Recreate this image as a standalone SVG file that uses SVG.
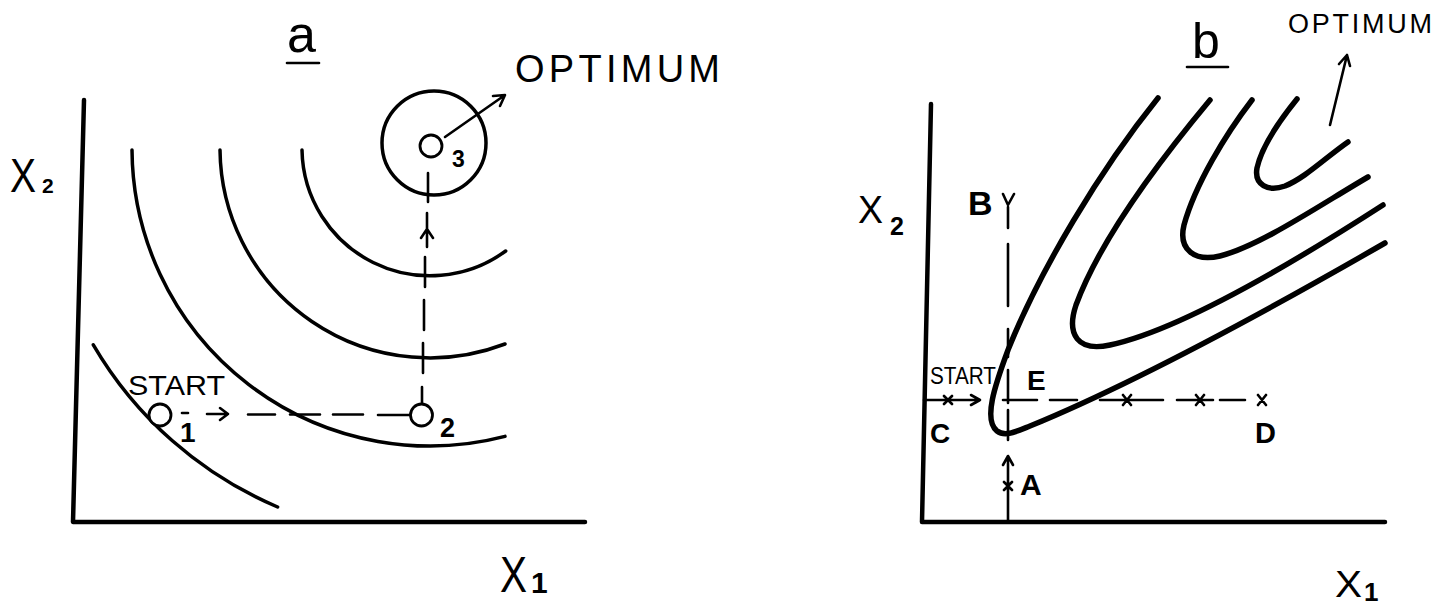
<svg xmlns="http://www.w3.org/2000/svg" width="1435" height="606" viewBox="0 0 1435 606">
<style>
.axis{stroke:#000;stroke-width:4.5;fill:none;stroke-linecap:round;stroke-linejoin:round}
.ca{stroke:#000;stroke-width:3.5;fill:none;stroke-linecap:round}
.cb{stroke:#000;stroke-width:5.5;fill:none;stroke-linecap:round}
.d{stroke:#000;stroke-width:2.6;fill:none;stroke-linecap:round;stroke-linejoin:round}
.pt{stroke:#000;stroke-width:2.8;fill:#fff}
.t{font-family:"Liberation Sans",Arial,sans-serif;fill:#000}
.b{font-weight:bold}
</style>
<rect width="1435" height="606" fill="#fff"/>

<!-- Panel a -->
<g id="panel-a">
  <path id="axes-a" class="axis" d="M84,100 L73,522 L585,522"/>
  <text class="t" x="287" y="52" font-size="52">a</text>
  <line class="d" x1="287" y1="63" x2="319" y2="63" stroke-width="3"/>
  <g id="contours-a">
    <path class="ca" d="M302,150 A128,128 0 0 0 505.7,251"/>
    <path class="ca" d="M220,150 A210,210 0 0 0 505,344"/>
    <path class="ca" d="M132,150 A298,298 0 0 0 505,436.4"/>
    <path class="ca" d="M93.3,344.8 A390,390 0 0 0 277.6,507"/>
    <circle class="ca" cx="434" cy="143" r="52"/>
  </g>
  <g id="path-a">
    <line class="d" x1="182" y1="413" x2="188" y2="413"/>
    <path class="d" d="M207,414 L228,414 M220,408 L228,414 L220,420"/>
    <path class="d" d="M248,414.5 L275,414.5 M290,414.5 L320,414.5 M333,414.5 L363,414.5 M378,415 L410,415"/>
    <path class="d" d="M428,173 L428,202 M427,213 L427,247 M421,238 L427,229 L433,238 M425,257 L425,287 M424,300 L424,330 M423,343 L423,373 M422,387 L422,404"/>
    <path class="d" d="M445,137 L505,95 M493,96 L505,95 L500,106"/>
  </g>
  <g id="point-o1">
    <circle class="pt" cx="160" cy="415" r="11"/>
    <text class="t b" x="180" y="442" font-size="28">1</text>
  </g>
  <g id="point-o2">
    <circle class="pt" cx="421.5" cy="415" r="11"/>
    <text class="t b" x="440" y="437" font-size="27">2</text>
  </g>
  <g id="point-o3">
    <circle class="pt" cx="431" cy="146" r="11"/>
    <text class="t b" x="452" y="167" font-size="23">3</text>
  </g>
  <text class="t" x="128" y="395" font-size="28" textLength="97" lengthAdjust="spacingAndGlyphs">START</text>
  <text class="t" x="515" y="82" font-size="38" textLength="205" lengthAdjust="spacing">OPTIMUM</text>
  <text class="t" x="10" y="192" font-size="48" textLength="26" lengthAdjust="spacingAndGlyphs">X</text>
  <text class="t b" x="42" y="193" font-size="21">2</text>
  <text class="t" x="500" y="592" font-size="50" textLength="27" lengthAdjust="spacingAndGlyphs">X</text>
  <text class="t b" x="531" y="593" font-size="30">1</text>
</g>

<!-- Panel b -->
<g id="panel-b">
  <path id="axes-b" class="axis" d="M931,104 L922,522 L1385,522"/>
  <text class="t" x="1192" y="58" font-size="50">b</text>
  <line class="d" x1="1187" y1="67" x2="1228" y2="67" stroke-width="3"/>
  <g id="contours-b">
    <path class="cb" d="M1297,99 C1280,120 1262,145 1257,168 C1254,185 1268,192 1285,186 C1305,178 1325,158 1348,142"/>
    <path class="cb" d="M1252,100 C1225,135 1195,185 1184,225 C1178,250 1195,262 1220,256 C1260,246 1320,205 1368,177"/>
    <path class="cb" d="M1210,100 C1160,160 1100,240 1076,305 C1066,335 1078,352 1110,345 C1180,330 1290,265 1383,205"/>
    <path class="cb" d="M1158,98 C1100,170 1040,270 1008,350 C995,385 983,420 997,431 C1005,437 1015,432 1030,426 C1130,385 1260,315 1385,243"/>
  </g>
  <g id="path-b">
    <path class="d" d="M924,400 L980,400 M971,395 L980,400 L971,405"/>
    <path class="d" d="M1003,400 L1037,400 M1050,400 L1077,400 M1100,400 L1163,400 M1177,400 L1213,400 M1220,400 L1245,400"/>
    <path class="d" d="M944,396 L952,404 M952,396 L944,404 M1123,395 L1131,405 M1131,395 L1123,405 M1196,395 L1204,405 M1204,395 L1196,405 M1258,395 L1266,405 M1266,395 L1258,405"/>
    <path class="d" d="M1008,522 L1008,456 M1003,465 L1008,456 L1013,465 M1004,482 L1012,490 M1012,482 L1004,490"/>
    <path class="d" d="M1008,410 L1008,440 M1008,370 L1008,403 M1008,329 L1008,357 M1008,244 L1008,306 M1008,207 L1008,228 M1003,194 L1008,205 L1014,194"/>
    <path class="d" d="M1330,125 L1347,55 M1339,64 L1347,55 L1350,66"/>
  </g>
  <text class="t" x="930" y="384" font-size="23" textLength="66" lengthAdjust="spacingAndGlyphs">START</text>
  <text class="t b" x="968" y="215" font-size="34">B</text>
  <text class="t b" x="1027" y="390" font-size="28">E</text>
  <text class="t b" x="930" y="443" font-size="28">C</text>
  <text class="t b" x="1255" y="443" font-size="29">D</text>
  <text class="t b" x="1020" y="495" font-size="30">A</text>
  <text class="t" x="1288" y="33" font-size="27" textLength="144" lengthAdjust="spacing">OPTIMUM</text>
  <text class="t" x="858" y="223" font-size="38" textLength="25" lengthAdjust="spacingAndGlyphs">X</text>
  <text class="t b" x="890" y="235" font-size="25">2</text>
  <text class="t" x="1335" y="597" font-size="36" textLength="27" lengthAdjust="spacingAndGlyphs">X</text>
  <text class="t b" x="1364" y="601" font-size="26">1</text>
</g>
</svg>
